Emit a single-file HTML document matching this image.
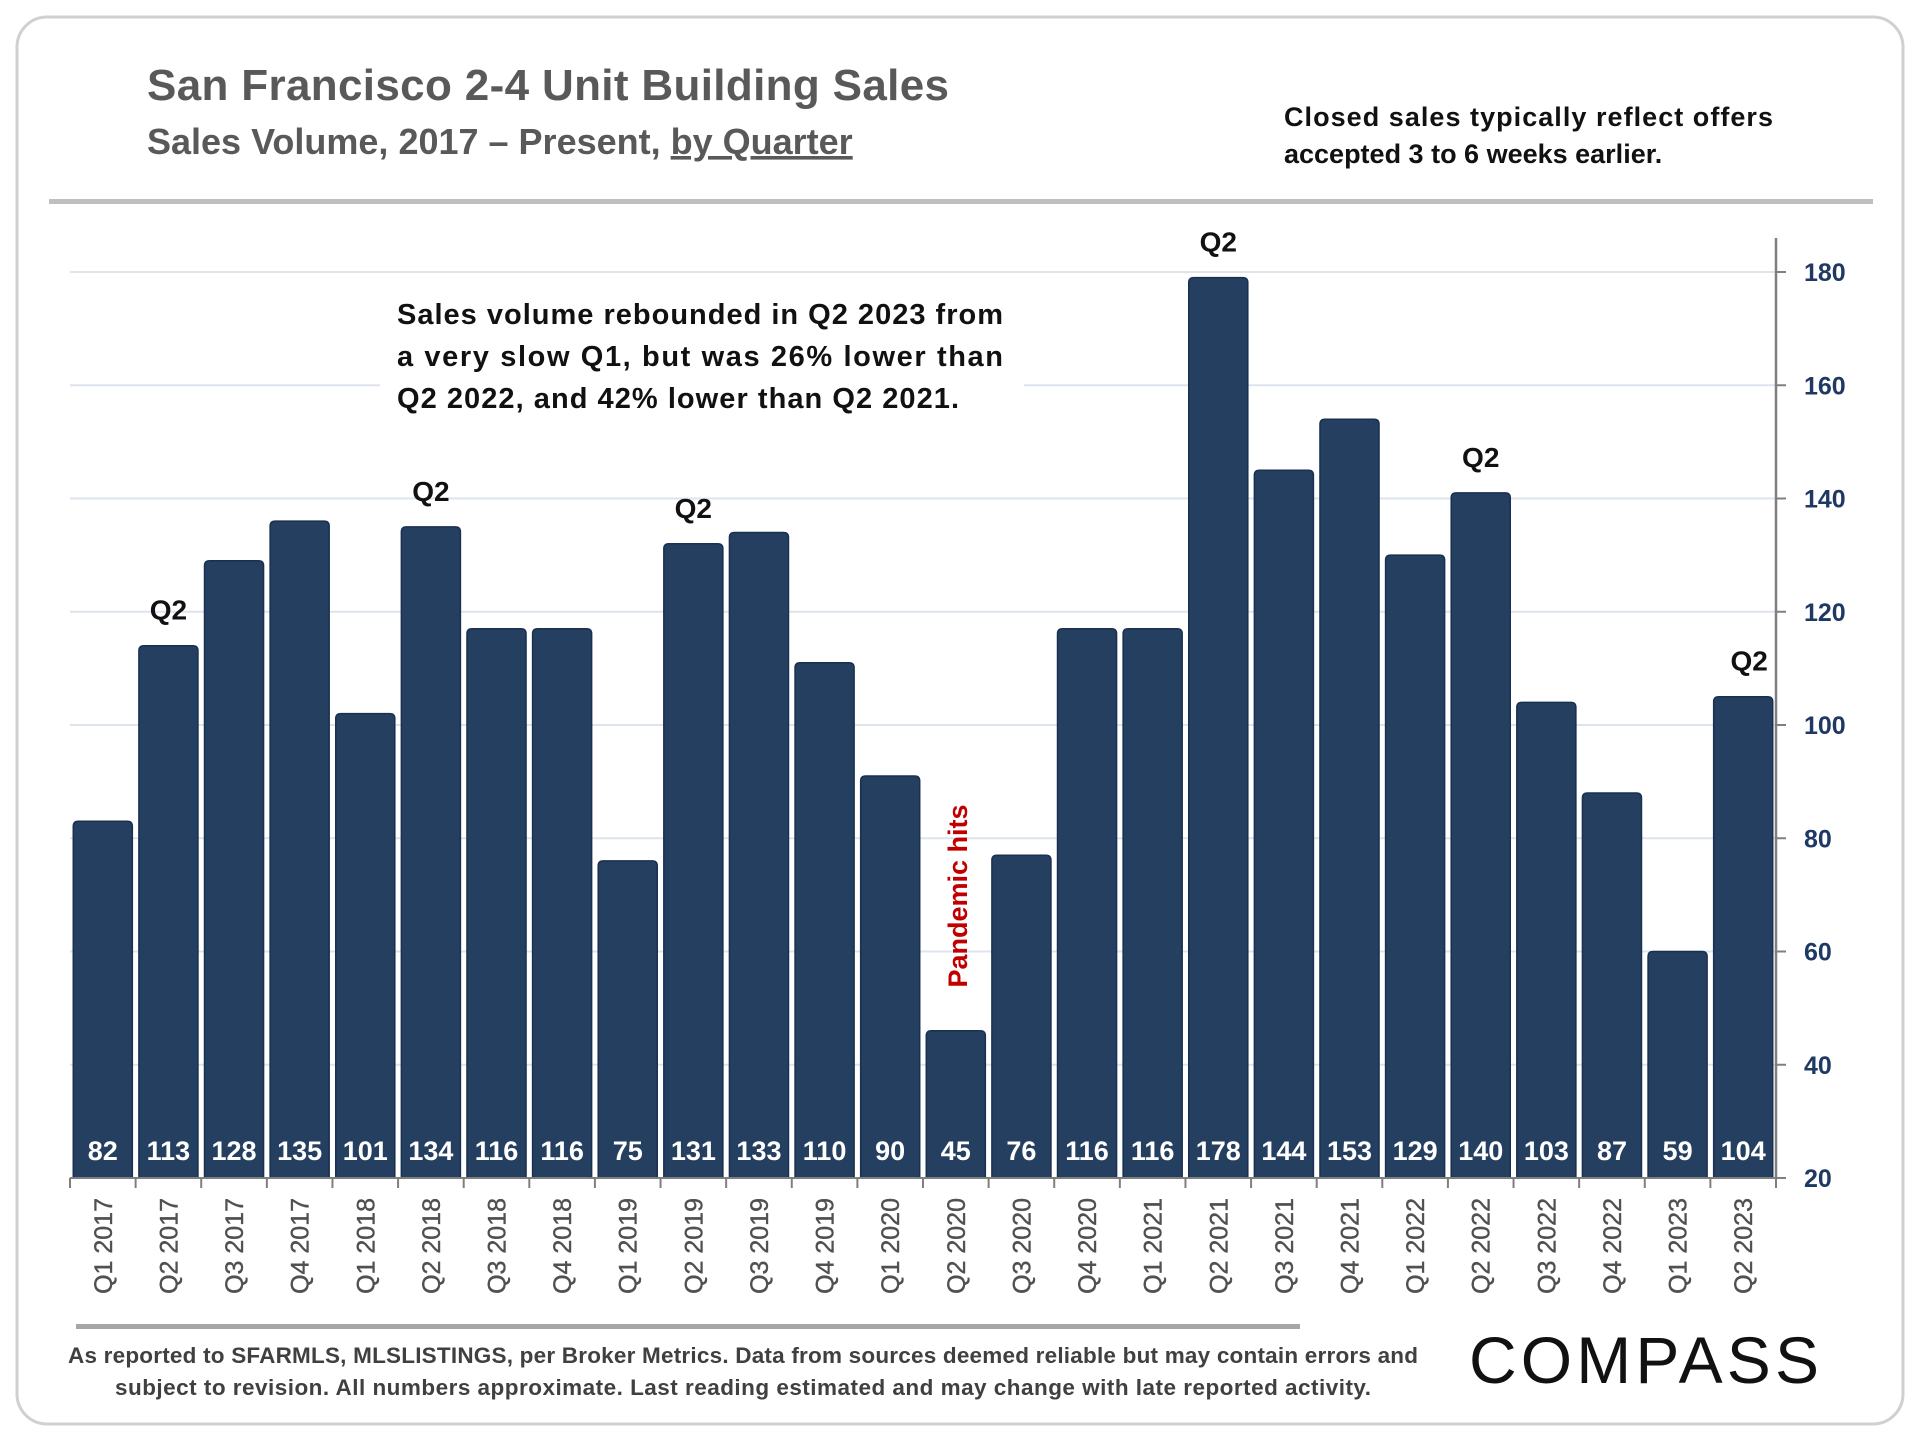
<!DOCTYPE html>
<html><head><meta charset="utf-8">
<style>
html,body{margin:0;padding:0;background:#fff;}
body{width:1920px;height:1440px;overflow:hidden;font-family:"Liberation Sans",sans-serif;}
svg text{font-family:"Liberation Sans",sans-serif;}
</style></head>
<body>
<svg id="chart" width="1920" height="1440" viewBox="0 0 1920 1440" xmlns="http://www.w3.org/2000/svg">
<rect x="17" y="17" width="1886" height="1407" rx="30" fill="#fff" stroke="#d0d0d0" stroke-width="3"/>
<text x="147" y="100" font-size="44" font-weight="bold" fill="#595959" textLength="802" lengthAdjust="spacing">San Francisco 2-4 Unit Building Sales</text>
<text x="147" y="154" font-size="36" font-weight="bold" fill="#595959">Sales Volume, 2017 – Present, <tspan text-decoration="underline">by Quarter</tspan></text>
<text x="1284" y="126" font-size="27" font-weight="bold" fill="#111" textLength="489" lengthAdjust="spacing">Closed sales typically reflect offers</text>
<text x="1284" y="163" font-size="27" font-weight="bold" fill="#111">accepted 3 to 6 weeks earlier.</text>
<rect x="49" y="199" width="1824" height="5" fill="#bfbfbf"/>
<g id="grid"></g>
<g id="bars"></g>
<rect x="380" y="280" width="644" height="150" fill="#fff"/>
<text x="397" y="324" font-size="29" font-weight="bold" fill="#111" textLength="606" lengthAdjust="spacing">Sales volume rebounded in Q2 2023 from</text>
<text x="397" y="366" font-size="29" font-weight="bold" fill="#111" textLength="606" lengthAdjust="spacing">a very slow Q1, but was 26% lower than</text>
<text x="397" y="408" font-size="29" font-weight="bold" fill="#111" textLength="562" lengthAdjust="spacing">Q2 2022, and 42% lower than Q2 2021.</text>
<g id="axes"></g>
<text transform="translate(967,896) rotate(-90)" text-anchor="middle" font-size="27" font-weight="bold" fill="#c00000">Pandemic hits</text>
<rect x="76" y="1324" width="1224" height="5" fill="#a6a6a6"/>
<text x="743" y="1363" text-anchor="middle" font-size="22.5" fill="#404040" font-weight="bold" textLength="1350" lengthAdjust="spacing">As reported to SFARMLS, MLSLISTINGS, per Broker Metrics. Data from sources deemed reliable but may contain errors and</text>
<text x="743" y="1395" text-anchor="middle" font-size="22.5" fill="#404040" font-weight="bold" textLength="1256" lengthAdjust="spacing">subject to revision. All numbers approximate.  Last reading estimated and may change with late reported activity.</text>
<text x="1469" y="1383" font-size="66" fill="#111" textLength="350" lengthAdjust="spacing">COMPASS</text>
</svg>
<script>
const categories=["Q1 2017","Q2 2017","Q3 2017","Q4 2017","Q1 2018","Q2 2018","Q3 2018","Q4 2018","Q1 2019","Q2 2019","Q3 2019","Q4 2019","Q1 2020","Q2 2020","Q3 2020","Q4 2020","Q1 2021","Q2 2021","Q3 2021","Q4 2021","Q1 2022","Q2 2022","Q3 2022","Q4 2022","Q1 2023","Q2 2023"];
const salesValues=[82,113,128,135,101,134,116,116,75,131,133,110,90,45,76,116,116,178,144,153,129,140,103,87,59,104];
const yTicks=[20,40,60,80,100,120,140,160,180];
const q2Marked=["Q2 2017","Q2 2018","Q2 2019","Q2 2021","Q2 2022","Q2 2023"];

const NS="http://www.w3.org/2000/svg";
const X0=70,X1=1776,Y0=1178,YMIN=20,YMAX=180,YTOP=272;
const band=(X1-X0)/categories.length;
const xc=i=>X0+band*(i+0.5);
const y=v=>Y0-(v-YMIN)*(Y0-YTOP)/(YMAX-YMIN);
function mk(tag,attrs,parent,txt){const e=document.createElementNS(NS,tag);for(const k in attrs)e.setAttribute(k,attrs[k]);if(txt!==undefined)e.textContent=txt;parent.appendChild(e);return e;}
const grid=document.getElementById('grid'),bars=document.getElementById('bars'),axes=document.getElementById('axes');
yTicks.forEach(t=>{
  if(t>YMIN){const g=mk('line',{x1:X0,x2:X1,y1:y(t),y2:y(t),stroke:'#dde4ee','stroke-width':2},grid);
  
  }
  const tk=mk('line',{x1:X1,x2:X1+10,y1:y(t),y2:y(t),stroke:'#7f7f7f','stroke-width':2},axes);
  
  
  const lb=mk('text',{x:X1+28,y:y(t)+9,'font-size':25,'font-weight':'bold',fill:'#1f3864'},axes,String(t));
  
  
});
const bw=band*0.9;
salesValues.forEach((v,i)=>{
  const top=y(v+1);
  const r=mk('path',{d:`M${xc(i)-bw/2},${Y0} V${top+5} Q${xc(i)-bw/2},${top} ${xc(i)-bw/2+5},${top} H${xc(i)+bw/2-5} Q${xc(i)+bw/2},${top} ${xc(i)+bw/2},${top+5} V${Y0} Z`,fill:'#243f60',stroke:'#1a3050','stroke-width':1.5},bars);
  
  
  const vl=mk('text',{x:xc(i),y:1160,'text-anchor':'middle','font-size':27,'font-weight':'bold',fill:'#fff'},bars,String(v));
  
  
  const xl=mk('text',{transform:`translate(${xc(i)+9},1198) rotate(-90)`,'text-anchor':'end','font-size':25,fill:'#505050','stroke':'#505050','stroke-width':0.4},axes,categories[i]);
  
  
  if(q2Marked.includes(categories[i])){
    const q=mk('text',{x:xc(i)+(i===categories.length-1?6:0),y:top-26,'text-anchor':'middle','font-size':28,'font-weight':'bold',fill:'#111'},bars,'Q2');
    
    
  }
});
for(let i=0;i<=categories.length;i++){
  const t=mk('line',{x1:X0+band*i,x2:X0+band*i,y1:Y0,y2:Y0+10,stroke:'#7f7f7f','stroke-width':2},axes);
  
  
}
const xa=mk('line',{x1:X0,x2:X1,y1:Y0,y2:Y0,stroke:'#7f7f7f','stroke-width':2},axes);


const ya=mk('line',{x1:X1,x2:X1,y1:238,y2:Y0,stroke:'#7f7f7f','stroke-width':2.5},axes);


</script>
</body></html>
